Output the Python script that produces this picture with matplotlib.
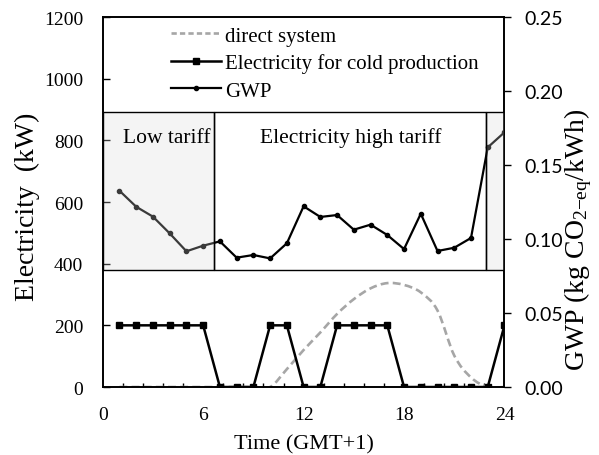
import matplotlib
matplotlib.use("Agg")
import matplotlib.pyplot as plt
from matplotlib.patches import Rectangle
from matplotlib.path import Path
from matplotlib.patches import PathPatch
from matplotlib.lines import Line2D
import numpy as np

plt.rcParams['font.family'] = ['Liberation Serif', 'DejaVu Serif']
plt.rcParams['mathtext.fontset'] = 'custom'
plt.rcParams['mathtext.rm'] = 'Liberation Serif'
plt.rcParams['mathtext.it'] = 'Liberation Serif:italic'

hours = list(range(1, 25))
electricity = [200, 200, 200, 200, 200, 200, 0, 0, 0, 200, 200, 0,
               0, 200, 200, 200, 200, 0, 0, 0, 0, 0, 0, 200]
direct = [0, 0, 0, 0, 0, 0, 0, 0, 0, 0, 58, 120,
          177, 237, 285, 320, 337, 331, 307, 248, 102, 31, 0, 0]
gwp = [0.1326, 0.1218, 0.1151, 0.1038, 0.0917, 0.0955, 0.0984, 0.0874,
       0.0892, 0.0869, 0.0971, 0.1221, 0.1149, 0.1162, 0.1063, 0.1097,
       0.1027, 0.0932, 0.1171, 0.0919, 0.0941, 0.1007, 0.1619, 0.1721]
xticks = [0, 6, 12, 18, 24]
yticks_left = [0, 200, 400, 600, 800, 1000, 1200]
yticks_right = [0.00, 0.05, 0.10, 0.15, 0.20, 0.25]
tariff_low_end = 6.64
tariff_high_end = 22.87
box_bottom = 380
box_top = 892

fig = plt.figure(figsize=(5.99, 4.56), dpi=100)
ax = fig.add_axes([0.1715, 0.1491, 0.6707, 0.8114])
ax2 = ax.twinx()

ax.set_xlim(0, 24)
ax.set_ylim(0, 1200)
ax2.set_ylim(0, 0.25)

# smooth (Bezier) path for direct system
x = np.array(hours, float)
y = np.array(direct, float)
verts = [(x[0], y[0])]
codes = [Path.MOVETO]
n = len(x)
for i in range(n - 1):
    p0 = (x[i - 1], y[i - 1]) if i > 0 else (x[i], y[i])
    p3 = (x[i + 2], y[i + 2]) if i + 2 < n else (x[i + 1], y[i + 1])
    c1 = (x[i] + (x[i + 1] - p0[0]) / 6, y[i] + (y[i + 1] - p0[1]) / 6)
    c2 = (x[i + 1] - (p3[0] - x[i]) / 6, y[i + 1] - (p3[1] - y[i]) / 6)
    verts += [c1, c2, (x[i + 1], y[i + 1])]
    codes += [Path.CURVE4] * 3
ax.add_patch(PathPatch(Path(verts, codes), fill=False, edgecolor='#a6a6a6',
                       lw=1.9, linestyle=(0, (3, 1.6)), zorder=2))

ax.plot(hours, electricity, color='black', lw=1.8, marker='s', ms=5, zorder=3)

ax2.plot(hours, gwp, color='black', lw=1.6, marker='o', ms=3, zorder=3)

# tariff boxes
tr = ax.transData
ax2.add_patch(Rectangle((tariff_low_end, box_bottom), tariff_high_end - tariff_low_end,
                        box_top - box_bottom, transform=tr, facecolor='none',
                        edgecolor='black', lw=1.0, zorder=4))
for x0, x1 in [(0, tariff_low_end), (tariff_high_end, 24)]:
    ax2.add_patch(Rectangle((x0, box_bottom), x1 - x0, box_top - box_bottom,
                            transform=tr, facecolor='#d9d9d9', alpha=0.27,
                            edgecolor='none', zorder=5))
    ax2.add_patch(Rectangle((x0, box_bottom), x1 - x0, box_top - box_bottom,
                            transform=tr, facecolor='none',
                            edgecolor='black', lw=1.0, zorder=6))

ax2.text(3.8, 810, 'Low tariff', transform=tr, ha='center', va='center',
         fontsize=15.5, zorder=7)
ax2.text(14.8, 810, 'Electricity high tariff', transform=tr, ha='center',
         va='center', fontsize=15.5, zorder=7)

# ticks
ax.set_xticks(xticks)
ax.set_xticklabels([str(t) for t in xticks], fontsize=14)
ax.set_xticks(np.arange(0, 24.01, 1.2), minor=True)
ax.tick_params(axis='x', which='major', length=0, pad=14)
ax.tick_params(axis='x', which='minor', direction='in', length=3, width=1)
ax.set_yticks(yticks_left)
ax.set_yticklabels([str(t) for t in yticks_left], fontsize=14)
ax.tick_params(axis='y', direction='in', length=5, width=1, pad=14)

ax2.set_yticks(yticks_right)
ax2.set_yticklabels(['%.2f' % t for t in yticks_right], fontsize=14,
                    family=['Lato', 'DejaVu Sans'])
ax2.tick_params(axis='y', direction='out', length=5, width=1, pad=9)

for a in (ax, ax2):
    for s in a.spines.values():
        s.set_linewidth(1.2)

ax.set_xlabel('Time (GMT+1)', fontsize=16, labelpad=8)
ax.set_ylabel('Electricity  (kW)', fontsize=20)
ax.yaxis.set_label_coords(-0.156, 0.49)
ax2.set_ylabel('GWP (kg CO$_{2\\mathrm{-eq}}$/kWh)', fontsize=20)
ax2.yaxis.set_label_coords(1.143, 0.40)

handles = [
    Line2D([], [], color='#a6a6a6', lw=1.9, linestyle=(0, (2, 1.2))),
    Line2D([], [], color='black', lw=1.8, marker='s', ms=5),
    Line2D([], [], color='black', lw=1.6, marker='o', ms=3),
]
labels = ['direct system', 'Electricity for cold production', 'GWP']
leg = ax2.legend(handles, labels, loc='upper left', bbox_to_anchor=(0.123, 1.026),
                 frameon=False, fontsize=15, handlelength=2.4, handletextpad=0.2,
                 labelspacing=0.37)
leg.set_zorder(10)

fig.savefig('out.png', dpi=100)
